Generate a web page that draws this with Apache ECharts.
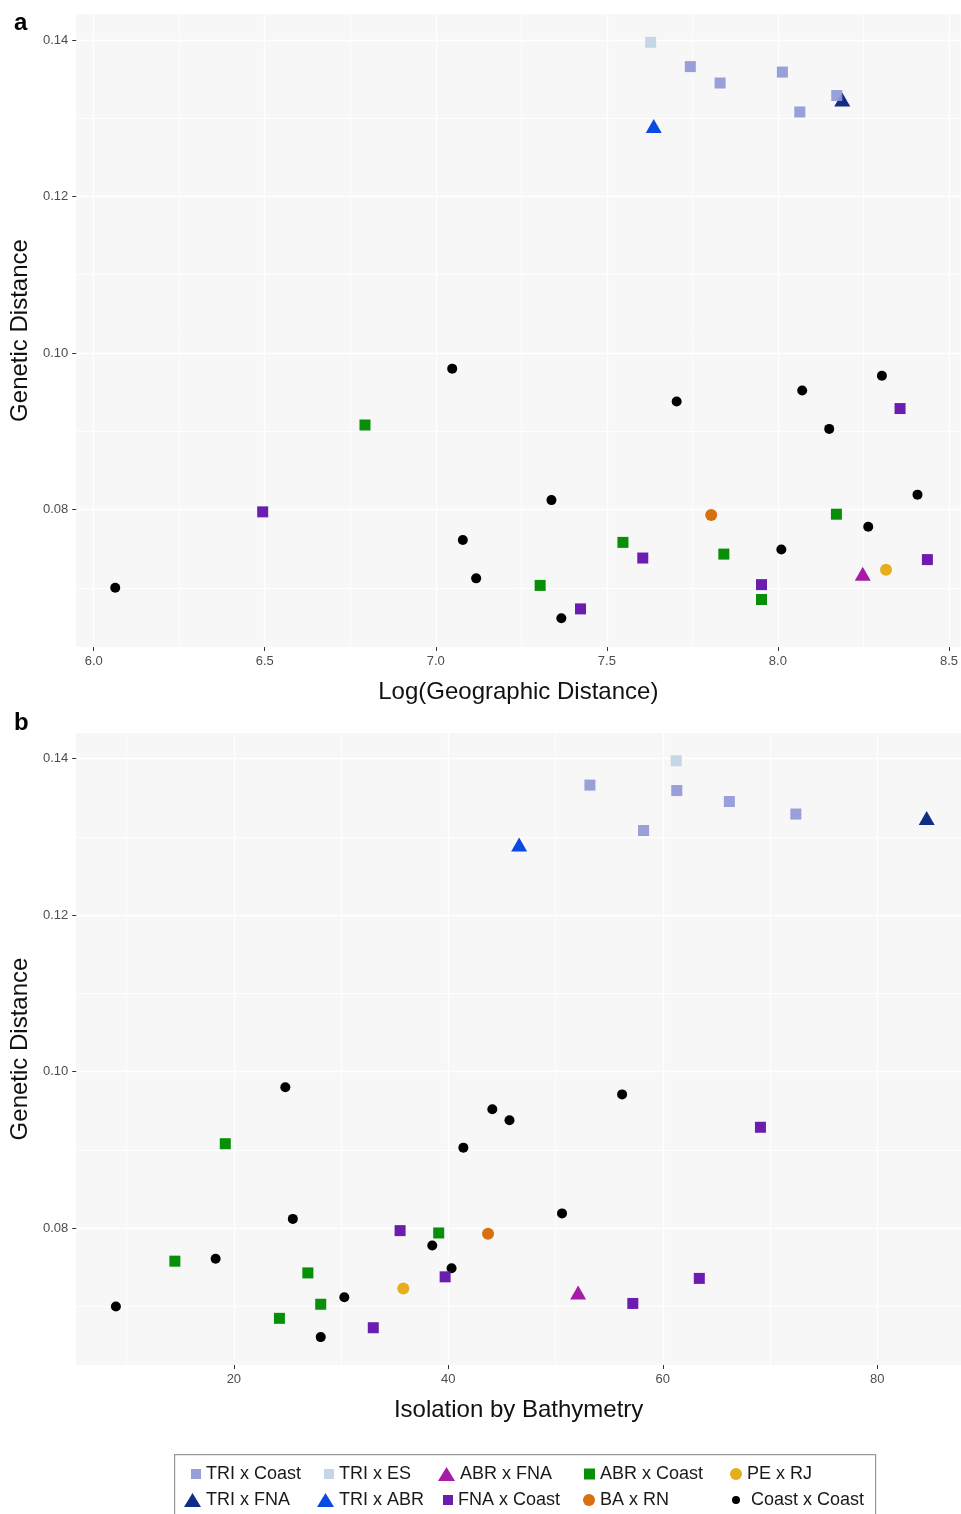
<!DOCTYPE html>
<html>
<head>
<meta charset="utf-8">
<script src="https://cdn.jsdelivr.net/npm/echarts@6/dist/echarts.min.js"></script>
<style>
html,body{margin:0;padding:0;background:#ffffff;}
#chart{width:961px;height:1514px;}
</style>
</head>
<body>
<div id="chart"></div>
<script>
// ---------- DATA ----------
// For each population pair group: genetic distance, log(geographic distance), isolation by bathymetry
const triCoastGen   = [0.1366, 0.1345, 0.1359, 0.1308, 0.1329];
const triCoastGeo   = [7.744, 7.831, 8.013, 8.064, 8.172];
const triCoastBathy = [53.2, 66.2, 61.3, 58.2, 72.4];

const triEsGen   = [0.1397];
const triEsGeo   = [7.628];
const triEsBathy = [61.25];

const triFnaGen   = [0.1324];
const triFnaGeo   = [8.188];
const triFnaBathy = [84.6];

const triAbrGen   = [0.1290];
const triAbrGeo   = [7.637];
const triAbrBathy = [46.6];

const abrFnaGen   = [0.0718];
const abrFnaGeo   = [8.248];
const abrFnaBathy = [52.1];

const abrCoastGen   = [0.0908, 0.0703, 0.0758, 0.0743, 0.0685, 0.0794];
const abrCoastGeo   = [6.793, 7.305, 7.547, 7.842, 7.952, 8.171];
const abrCoastBathy = [19.2, 28.1, 14.5, 26.9, 24.25, 39.1];

const fnaCoastGen   = [0.0797, 0.0673, 0.0738, 0.0704, 0.0929, 0.0736];
const fnaCoastGeo   = [6.494, 7.423, 7.605, 7.952, 8.357, 8.437];
const fnaCoastBathy = [35.5, 33.0, 39.7, 57.2, 69.1, 63.4];

const baRnGen   = [0.0793];
const baRnGeo   = [7.805];
const baRnBathy = [43.7];

const peRjGen   = [0.0723];
const peRjGeo   = [8.316];
const peRjBathy = [35.8];

const coastCoastGen   = [0.0700, 0.0980, 0.0761, 0.0712, 0.0812, 0.0661, 0.0938, 0.0952, 0.0903, 0.0971, 0.0819, 0.0778, 0.0749];
const coastCoastGeo   = [6.063, 7.048, 7.079, 7.118, 7.338, 7.367, 7.704, 8.071, 8.150, 8.304, 8.408, 8.264, 8.010];
const coastCoastBathy = [9.0, 24.8, 18.3, 30.3, 25.5, 28.1, 45.7, 44.1, 41.4, 56.2, 50.6, 38.5, 40.3];

// tick labels
const geoTicks   = [6.0, 6.5, 7.0, 7.5, 8.0, 8.5];
const geoMinor   = [6.25, 6.75, 7.25, 7.75, 8.25];
const bathyTicks = [20, 40, 60, 80];
const bathyMinor = [10, 30, 50, 70];
const genTicks   = [0.08, 0.10, 0.12, 0.14];
const genMinor   = [0.07, 0.09, 0.11, 0.13];

// ---------- STYLE ----------
const FONT = 'Liberation Sans, Arial, Helvetica, sans-serif';
const groups = [
  // drawn in this order (later on top)
  {name:'Coast x Coast', gen:coastCoastGen, geo:coastCoastGeo, bathy:coastCoastBathy, color:'#000000', symbol:'circle', size:10},
  {name:'TRI x FNA',     gen:triFnaGen,     geo:triFnaGeo,     bathy:triFnaBathy,     color:'#122D87', symbol:'triangle', size:[16,14]},
  {name:'TRI x ABR',     gen:triAbrGen,     geo:triAbrGeo,     bathy:triAbrBathy,     color:'#0B4AE2', symbol:'triangle', size:[16,14]},
  {name:'ABR x FNA',     gen:abrFnaGen,     geo:abrFnaGeo,     bathy:abrFnaBathy,     color:'#A81AA8', symbol:'triangle', size:[16,14]},
  {name:'TRI x Coast',   gen:triCoastGen,   geo:triCoastGeo,   bathy:triCoastBathy,   color:'#8F97D6', symbol:'rect', size:11, opacity:0.92},
  {name:'TRI x ES',      gen:triEsGen,      geo:triEsGeo,      bathy:triEsBathy,      color:'#C6D6E6', symbol:'rect', size:11},
  {name:'ABR x Coast',   gen:abrCoastGen,   geo:abrCoastGeo,   bathy:abrCoastBathy,   color:'#078F07', symbol:'rect', size:11},
  {name:'FNA x Coast',   gen:fnaCoastGen,   geo:fnaCoastGeo,   bathy:fnaCoastBathy,   color:'#6A1DAE', symbol:'rect', size:11},
  {name:'BA x RN',       gen:baRnGen,       geo:baRnGeo,       bathy:baRnBathy,       color:'#D8700E', symbol:'circle', size:12},
  {name:'PE x RJ',       gen:peRjGen,       geo:peRjGeo,       bathy:peRjBathy,       color:'#E6AE1C', symbol:'circle', size:12}
];

function zip(xs, ys){ return xs.map((x,i)=>[x, ys[i]]); }

const series = [];
groups.forEach(g=>{
  series.push({
    type:'scatter', name:g.name, xAxisIndex:0, yAxisIndex:0,
    data: zip(g.geo, g.gen), symbol:g.symbol, symbolSize:g.size,
    itemStyle:{color:g.color, opacity:g.opacity||1}, z:3
  });
  series.push({
    type:'scatter', name:g.name, xAxisIndex:2, yAxisIndex:2,
    data: zip(g.bathy, g.gen), symbol:g.symbol, symbolSize:g.size,
    itemStyle:{color:g.color, opacity:g.opacity||1}, z:3
  });
});

const tickLabelStyle = {color:'#4D4D4D', fontSize:13, fontFamily:FONT};
const nameStyle = {color:'#111111', fontSize:24, fontFamily:FONT};

function mainX(grid, min, max, ticks, fmt, title, gap){
  return {
    type:'value', gridIndex:grid, min:min, max:max, position:'bottom',
    axisLine:{show:false},
    axisTick:{show:true, length:4, customValues:ticks, lineStyle:{color:'#333333', width:1}},
    axisLabel:{show:true, customValues:ticks, formatter:fmt, margin:8, ...tickLabelStyle},
    splitLine:{show:true, lineStyle:{color:'#FFFFFF', width:1.3}},
    name:title, nameLocation:'middle', nameGap:gap, nameTextStyle:nameStyle
  };
}
function minorX(grid, min, max, ticks){
  return {
    type:'value', gridIndex:grid, min:min, max:max, position:'bottom',
    axisLine:{show:false}, axisLabel:{show:false},
    axisTick:{show:false, customValues:ticks},
    splitLine:{show:true, lineStyle:{color:'#FFFFFF', width:0.8}}
  };
}
function mainY(grid, min, max){
  return {
    type:'value', gridIndex:grid, min:min, max:max, position:'left',
    axisLine:{show:false},
    axisTick:{show:true, length:4, customValues:genTicks, lineStyle:{color:'#333333', width:1}},
    axisLabel:{show:true, customValues:genTicks, formatter:v=>v.toFixed(2), margin:8, ...tickLabelStyle},
    splitLine:{show:true, lineStyle:{color:'#FFFFFF', width:1.3}},
    name:'Genetic Distance', nameLocation:'middle', nameGap:43, nameRotate:90, nameTextStyle:nameStyle
  };
}
function minorY(grid, min, max){
  return {
    type:'value', gridIndex:grid, min:min, max:max, position:'left',
    axisLine:{show:false}, axisLabel:{show:false},
    axisTick:{show:false, customValues:genMinor},
    splitLine:{show:true, lineStyle:{color:'#FFFFFF', width:0.8}}
  };
}

const legendTextStyle = {fontSize:18, color:'#1A1A1A', fontFamily:FONT};
function legendItem(name, left, top, w, h, extraText){
  return {
    data:[name], left:left, top:top, itemWidth:w, itemHeight:h, padding:0, itemGap:0,
    selectedMode:true,
    textStyle: Object.assign({}, legendTextStyle, extraText||{})
  };
}

const option = {
  animation:false,
  backgroundColor:'#FFFFFF',
  title:[
    {text:'a', left:9, top:6, textStyle:{fontSize:24, fontWeight:'bold', color:'#000', fontFamily:FONT}},
    {text:'b', left:9, top:706, textStyle:{fontSize:24, fontWeight:'bold', color:'#000', fontFamily:FONT}}
  ],
  grid:[
    {left:76, top:14, width:885, height:633, show:true, backgroundColor:'#F7F7F7', borderWidth:0},
    {left:76, top:733, width:885, height:632, show:true, backgroundColor:'#F7F7F7', borderWidth:0}
  ],
  xAxis:[
    mainX(0, 5.9489, 8.5336, geoTicks, v=>v.toFixed(1), 'Log(Geographic Distance)', 33),
    minorX(0, 5.9489, 8.5336, geoMinor),
    mainX(1, 5.30, 87.80, bathyTicks, v=>String(Math.round(v)), 'Isolation by Bathymetry', 33),
    minorX(1, 5.30, 87.80, bathyMinor)
  ],
  yAxis:[
    mainY(0, 0.06243, 0.14332),
    minorY(0, 0.06243, 0.14332),
    mainY(1, 0.06254, 0.14325),
    minorY(1, 0.06254, 0.14325)
  ],
  legend:[
    legendItem('TRI x Coast', 191, 1465, 10, 10),
    legendItem('TRI x ES',    324, 1465, 10, 10),
    legendItem('ABR x FNA',   438, 1465, 17, 14),
    legendItem('ABR x Coast', 584, 1465, 11, 11),
    legendItem('PE x RJ',     730, 1465, 12, 12),
    legendItem('TRI x FNA',   184, 1491, 17, 14),
    legendItem('TRI x ABR',   317, 1491, 17, 14),
    legendItem('FNA x Coast', 443, 1491, 10, 10),
    legendItem('BA x RN',     583, 1491, 12, 12),
    legendItem('Coast x Coast', 732, 1491, 8, 8, {padding:[0,0,0,6]})
  ],
  graphic:[
    {type:'rect', left:174, top:1454, shape:{width:701, height:80}, style:{fill:'#FFFFFF', stroke:'#9A9A9A', lineWidth:1.2}, z:-1, silent:true}
  ],
  series: series
};

const chart = echarts.init(document.getElementById('chart'), null, {renderer:'canvas'});
chart.setOption(option);
</script>
</body>
</html>
